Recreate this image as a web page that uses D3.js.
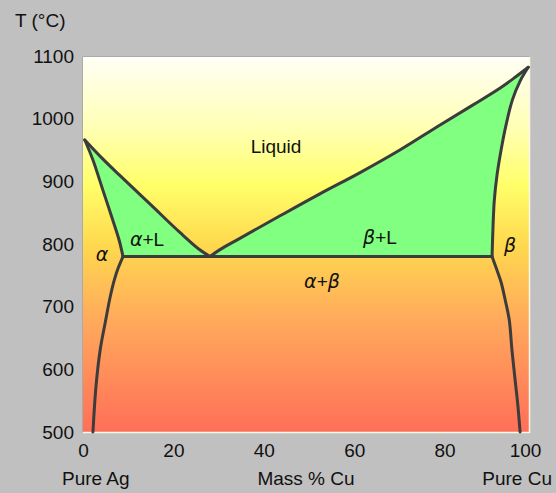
<!DOCTYPE html>
<html>
<head>
<meta charset="utf-8">
<script src="https://cdn.jsdelivr.net/npm/d3@7"></script>
<style>
  body { margin: 0; background: #c0c0c0; }
  svg { display: block; font-family: "Liberation Sans", Arial, sans-serif; }
</style>
</head>
<body>
<div id="chart"></div>
<script>
// Ag-Cu phase diagram: [mass % Cu, T in °C]
var liquidusAg = [[0.4, 966], [4.2, 937], [8.2, 909], [14.8, 864], [21.5, 818], [25.6, 792], [28.1, 780]];
var liquidusCu = [[28.1, 780], [30.3, 791], [34.7, 809], [43.6, 845], [52.4, 880], [61.3, 914],
                  [70.1, 950], [79.0, 990], [86.3, 1022], [92.3, 1049], [95.6, 1066], [98.5, 1082]];
var solidusAg = [[0.4, 966], [2.2, 934], [4.4, 886], [6.6, 838], [8.0, 806], [8.85, 780]];
var solidusCu = [[98.5, 1082], [96.7, 1060], [95.0, 1030], [93.6, 990], [92.5, 950],
                 [91.6, 910], [91.0, 870], [90.7, 825], [90.5, 780]];
var solvusAg = [[8.85, 780], [7.8, 762], [6.9, 742], [6.0, 715], [4.9, 674], [3.8, 631], [2.9, 575], [2.2, 500]];
var solvusCu = [[90.5, 780], [91.4, 762], [92.5, 739], [93.4, 711], [94.3, 679], [94.9, 631], [95.6, 583], [96.2, 543], [96.7, 500]];
var eutectic = [[8.85, 780], [90.5, 780]];

var xTicks = [0, 20, 40, 60, 80, 100];
var yTicks = [500, 600, 700, 800, 900, 1000, 1100];

var W = 556, H = 493;
var plot = {left: 83, top: 57, right: 529, bottom: 432};

var svg = d3.select("#chart").append("svg")
    .attr("width", W)
    .attr("height", H);

var x = d3.scaleLinear().domain([0, 100]).range([83, 535]);
var y = d3.scaleLinear().domain([500, 1100]).range([432, 56]);

// background gradient of the plot area
var grad = svg.append("defs").append("linearGradient")
    .attr("id", "bg").attr("x1", 0).attr("y1", 0).attr("x2", 0).attr("y2", 1);
[[0, "#fffff6"], [0.18, "#ffffb8"], [0.34, "#ffff6a"], [0.5, "#ffd94e"],
 [0.7, "#ffaa5c"], [1, "#ff6f58"]].forEach(function(s) {
  grad.append("stop").attr("offset", s[0]).attr("stop-color", s[1]);
});

svg.append("rect")
    .attr("x", plot.left).attr("y", plot.top)
    .attr("width", plot.right - plot.left)
    .attr("height", plot.bottom - plot.top)
    .attr("fill", "url(#bg)");

// border: dark top/left, light bottom/right
svg.append("path")
    .attr("d", "M" + (plot.left - 0.5) + "," + plot.bottom + "V" + (plot.top - 0.5) + "H" + plot.right)
    .attr("fill", "none").attr("stroke", "#aaaaaa");
svg.append("path")
    .attr("d", "M" + plot.left + "," + (plot.bottom + 0.5) + "H" + (plot.right + 0.5) + "V" + plot.top)
    .attr("fill", "none").attr("stroke", "#fbf8e8").attr("stroke-width", 1.5);

var line = d3.line()
  .x(function(d) { return x(d[0]); })
  .y(function(d) { return y(d[1]); })
  .curve(d3.curveCatmullRom.alpha(0.5));

// two-phase liquid + solid fields, joined from the boundary curves
function field(a, b) {
  return line(a) + line(b).replace(/^M/, "L") + "Z";
}
svg.append("path").attr("d", field(liquidusAg, solidusAg.slice().reverse())).attr("fill", "#80ff80");
svg.append("path").attr("d", field(liquidusCu, solidusCu)).attr("fill", "#80ff80");

var g = svg.append("g").attr("fill", "none")
    .attr("stroke", "#3c3c3c").attr("stroke-width", 3)
    .attr("stroke-linejoin", "round").attr("stroke-linecap", "round");

[liquidusAg, liquidusCu, solidusAg, solidusCu, solvusAg, solvusCu, eutectic].forEach(function(d) {
  g.append("path").datum(d).attr("d", line);
});

// axes
var fs = "19px";
var yaxis = svg.append("g")
    .attr("transform", "translate(" + plot.left + ",0)")
    .call(d3.axisLeft(y).tickValues(yTicks).tickFormat(d3.format("d")).tickSize(0).tickPadding(9));
var xaxis = svg.append("g")
    .attr("transform", "translate(0," + plot.bottom + ")")
    .call(d3.axisBottom(x).tickValues(xTicks).tickFormat(d3.format("d")).tickSize(0).tickPadding(12));

[xaxis, yaxis].forEach(function(a) {
  a.select(".domain").remove();
  a.selectAll("text").attr("font-size", fs).attr("fill", "#111")
    .attr("font-family", "Liberation Sans, Arial, sans-serif");
});
xaxis.selectAll(".tick").filter(function(d) { return d === 100; })
    .select("text").attr("x", -10);

// axis titles
svg.append("text").attr("x", 15).attr("y", 27).attr("font-size", fs).attr("fill", "#111").text("T (°C)");
svg.append("text").attr("x", 62).attr("y", 485).attr("font-size", fs).attr("fill", "#111").text("Pure Ag");
svg.append("text").attr("x", 306).attr("y", 485).attr("font-size", fs).attr("fill", "#111")
    .attr("text-anchor", "middle").text("Mass % Cu");
svg.append("text").attr("x", 552).attr("y", 485).attr("font-size", fs).attr("fill", "#111")
    .attr("text-anchor", "end").text("Pure Cu");

// phase labels
var labels = [
  {parts: [["Liquid", false]], x: 276, y: 153},
  {parts: [["α", true]], x: 102, y: 261},
  {parts: [["α", true], ["+L", false]], x: 147, y: 246},
  {parts: [["β", true], ["+L", false]], x: 380, y: 244},
  {parts: [["α", true], ["+", false], ["β", true]], x: 322, y: 288},
  {parts: [["β", true]], x: 510, y: 252}
];
labels.forEach(function(l) {
  var t = svg.append("text").attr("x", l.x).attr("y", l.y)
    .attr("text-anchor", "middle").attr("font-size", fs).attr("fill", "#111");
  l.parts.forEach(function(p) {
    t.append("tspan").attr("font-style", p[1] ? "italic" : "normal")
      .attr("font-family", p[1] ? "DejaVu Sans, sans-serif" : null)
      .text(p[0]);
  });
});
</script>
</body>
</html>
